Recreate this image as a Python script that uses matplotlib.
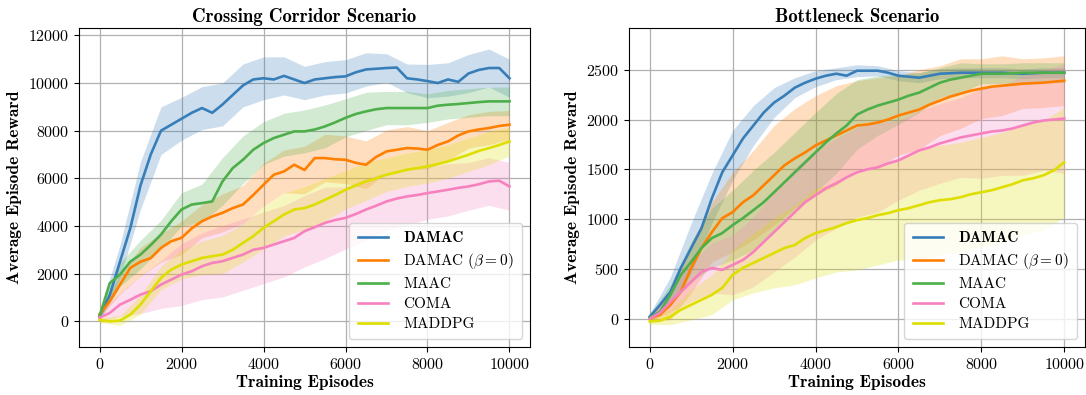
import matplotlib
matplotlib.use("Agg")
import matplotlib.pyplot as plt
import numpy as np

plt.rcParams["font.family"] = "cmr10"
plt.rcParams["mathtext.fontset"] = "cm"
plt.rcParams["axes.formatter.use_mathtext"] = True
plt.rcParams["axes.unicode_minus"] = False

episodes = list(range(0, 10001, 250))
band_episodes = list(range(0, 10001, 500))

labels = ["DAMAC", r"DAMAC ($\beta=0$)", "MAAC", "COMA", "MADDPG"]
colors = ["#377eb8", "#ff7f00", "#4daf4a", "#f781bf", "#dede00"]

# crossing corridor: mean reward every 250 episodes
cc_damac = [200, 1100, 2500, 3900, 5700, 7000, 8000, 8250, 8500, 8750, 8950, 8750, 9100, 9500,
            9900, 10150, 10200, 10150, 10300, 10150, 10000, 10150, 10200, 10250, 10280, 10450,
            10570, 10600, 10630, 10650, 10200, 10150, 10080, 10000, 10150, 10050, 10400, 10550,
            10630, 10630, 10200]
cc_damac0 = [300, 840, 1540, 2240, 2500, 2650, 3080, 3360, 3500, 3900, 4200, 4400, 4550, 4750,
             4900, 5300, 5730, 6150, 6290, 6570, 6350, 6850, 6850, 6800, 6780, 6650, 6570, 6900,
             7130, 7200, 7270, 7250, 7200, 7400, 7550, 7800, 7970, 8050, 8110, 8200, 8250]
cc_maac = [200, 1600, 1960, 2500, 2800, 3200, 3640, 4200, 4690, 4900, 4960, 5030, 5870, 6430,
           6780, 7200, 7480, 7690, 7830, 7970, 7970, 8050, 8180, 8350, 8540, 8700, 8810, 8900,
           8950, 8950, 8950, 8950, 8950, 9050, 9090, 9120, 9160, 9200, 9230, 9230, 9230]
cc_coma = [150, 350, 700, 900, 1120, 1260, 1540, 1750, 1960, 2100, 2310, 2450, 2520, 2660,
           2800, 3000, 3080, 3220, 3360, 3500, 3780, 3950, 4130, 4250, 4340, 4500, 4690, 4850,
           5030, 5150, 5240, 5300, 5380, 5450, 5520, 5600, 5660, 5750, 5870, 5900, 5660]
cc_maddpg = [50, 0, 30, 280, 700, 1260, 1820, 2170, 2380, 2520, 2660, 2730, 2800, 3000, 3290,
             3570, 3920, 4200, 4480, 4690, 4750, 4900, 5100, 5300, 5520, 5700, 5870, 6000, 6150,
             6250, 6360, 6430, 6500, 6600, 6710, 6850, 6990, 7150, 7270, 7400, 7550]

# crossing corridor: band half-width every 500 episodes
cc_damac_w = [200, 700, 1000, 1000, 900, 900, 900, 900, 900, 800, 700, 700, 700, 700, 600, 600,
              700, 700, 800, 800, 800]
cc_damac0_w = [150, 400, 600, 600, 700, 700, 800, 800, 900, 900, 1000, 1000, 1000, 1000, 900,
               900, 800, 800, 700, 700, 600]
cc_maac_w = [150, 500, 600, 600, 700, 800, 1000, 1000, 900, 900, 900, 900, 800, 800, 700, 700,
             600, 600, 600, 600, 600]
cc_coma_w = [200, 500, 800, 1000, 1300, 1400, 1500, 1500, 1500, 1500, 1500, 1500, 1300, 1300,
             1200, 1200, 1100, 1100, 1000, 1000, 1000]
cc_maddpg_w = [100, 200, 400, 500, 600, 700, 800, 800, 900, 900, 900, 900, 800, 800, 700, 700,
               700, 700, 700, 700, 600]

# bottleneck: mean reward every 250 episodes
bn_damac = [20, 140, 270, 510, 710, 910, 1210, 1470, 1640, 1810, 1940, 2070, 2170, 2240, 2320,
            2370, 2410, 2440, 2460, 2440, 2490, 2490, 2490, 2470, 2440, 2430, 2420, 2440, 2460,
            2465, 2470, 2470, 2470, 2470, 2470, 2465, 2460, 2465, 2470, 2470, 2470]
bn_damac0 = [0, 40, 140, 270, 510, 710, 870, 1010, 1070, 1170, 1240, 1340, 1440, 1540, 1610,
             1670, 1740, 1790, 1840, 1890, 1940, 1950, 1970, 2000, 2040, 2070, 2100, 2150, 2190,
             2230, 2260, 2290, 2310, 2330, 2340, 2350, 2360, 2365, 2370, 2380, 2390]
bn_maac = [10, 70, 240, 440, 570, 710, 810, 860, 940, 1010, 1090, 1170, 1270, 1370, 1470, 1570,
           1670, 1770, 1860, 1940, 2050, 2100, 2140, 2170, 2200, 2240, 2270, 2320, 2370, 2400,
           2420, 2440, 2460, 2460, 2460, 2465, 2470, 2470, 2470, 2470, 2470]
bn_coma = [0, 60, 170, 270, 370, 470, 510, 490, 540, 590, 670, 770, 870, 970, 1070, 1170, 1240,
           1310, 1360, 1420, 1470, 1500, 1520, 1560, 1590, 1640, 1690, 1720, 1760, 1790, 1820,
           1840, 1860, 1880, 1890, 1910, 1940, 1970, 1990, 2000, 2010]
bn_maddpg = [-27, -20, 20, 90, 140, 190, 240, 310, 440, 510, 560, 610, 660, 710, 740, 810, 860,
             890, 920, 960, 990, 1010, 1040, 1060, 1090, 1110, 1140, 1170, 1190, 1200, 1220,
             1250, 1270, 1290, 1320, 1350, 1390, 1410, 1440, 1490, 1570]

# bottleneck: band half-width every 500 episodes
bn_damac_w = [30, 150, 250, 250, 250, 200, 150, 100, 80, 60, 60, 50, 50, 50, 50, 50, 50, 50,
              50, 50, 50]
bn_damac0_w = [30, 150, 250, 300, 400, 450, 500, 500, 500, 500, 450, 450, 400, 400, 350, 350,
               300, 300, 250, 250, 250]
bn_maac_w = [30, 100, 200, 300, 350, 400, 400, 400, 400, 400, 350, 300, 250, 200, 150, 150, 100,
             100, 100, 100, 100]
bn_coma_w = [30, 100, 200, 250, 300, 350, 400, 450, 450, 450, 450, 450, 400, 400, 400, 400, 450,
             450, 500, 500, 550]
bn_maddpg_w = [30, 80, 150, 200, 250, 300, 350, 400, 450, 450, 500, 500, 500, 550, 550, 550, 550,
               550, 550, 550, 550]

cc_means = [cc_damac, cc_damac0, cc_maac, cc_coma, cc_maddpg]
cc_widths = [cc_damac_w, cc_damac0_w, cc_maac_w, cc_coma_w, cc_maddpg_w]
bn_means = [bn_damac, bn_damac0, bn_maac, bn_coma, bn_maddpg]
bn_widths = [bn_damac_w, bn_damac0_w, bn_maac_w, bn_coma_w, bn_maddpg_w]


def draw(ax, means, widths, title, ylim, yticks):
    for mean, width, label, color in zip(means, widths, labels, colors):
        m = np.array(mean)
        w = np.array(width)
        mb = m[::2]
        ax.fill_between(band_episodes, mb - w, mb + w, color=color, alpha=0.25, lw=0)
        ax.plot(episodes, m, color=color, lw=1.9, label=label)
    ax.set_xlim(-500, 10500)
    ax.set_ylim(*ylim)
    ax.set_xticks(range(0, 10001, 2000))
    ax.set_yticks(yticks)
    ax.grid(True, color="#b0b0b0", lw=0.9)
    ax.set_axisbelow(True)
    ax.tick_params(labelsize=11.5)
    ax.set_title(title, fontfamily="cmb10", fontsize=13.5, pad=4)
    ax.set_xlabel("Training Episodes", fontfamily="cmb10", fontsize=12.5, labelpad=2)
    ax.set_ylabel("Average Episode Reward", fontfamily="cmb10", fontsize=12.5)
    leg = ax.legend(loc="lower right", fontsize=11, handlelength=2.0, borderpad=0.55,
                    labelspacing=0.4, handletextpad=1.0)
    leg.get_texts()[0].set_fontfamily("cmb10")


fig = plt.figure(figsize=(10.86, 3.95), dpi=100)
ax1 = fig.add_axes([79 / 1086, 48 / 395, 451 / 1086, 319 / 395])
ax2 = fig.add_axes([629 / 1086, 48 / 395, 456 / 1086, 319 / 395])

draw(ax1, cc_means, cc_widths, "Crossing Corridor Scenario", (-1080, 12310),
     range(0, 12001, 2000))
draw(ax2, bn_means, bn_widths, "Bottleneck Scenario", (-284, 2919), range(0, 2501, 500))

fig.savefig("out.png", dpi=100)
